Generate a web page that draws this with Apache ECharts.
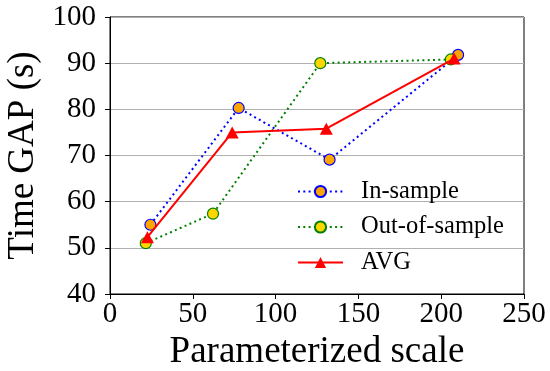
<!DOCTYPE html>
<html>
<head>
<meta charset="utf-8">
<script src="https://cdn.jsdelivr.net/npm/echarts@6/dist/echarts.min.js"></script>
<style>html,body{margin:0;padding:0;background:#fff;}#c{width:550px;height:371px;}</style>
</head>
<body>
<div id="c"></div>
<script>
const seriesNames = ['In-sample', 'Out-of-sample', 'AVG'];
const inSampleX = [24.4, 77.7, 132.6, 210.2];
const inSampleY = [55.0, 80.3, 69.1, 91.8];
const outSampleX = [21.6, 62.2, 127.0, 205.8];
const outSampleY = [51.0, 57.4, 90.0, 90.8];
const avgX = [22.6, 73.8, 130.6, 207.8];
const avgY = [52.3, 75.0, 75.8, 91.0];
const xTicks = [0, 50, 100, 150, 200, 250];
const yTicks = [40, 50, 60, 70, 80, 90, 100];

const pair = (xs, ys) => xs.map((x, i) => [x, ys[i]]);
const FONT = 'Liberation Serif';

const chart = echarts.init(document.getElementById('c'), null, {renderer: 'canvas'});
chart.setOption({
  animation: false,
  backgroundColor: '#fff',
  grid: {left: 110, right: 26, top: 17, bottom: 77, containLabel: false, outerBoundsMode: 'none',
         show: true, borderColor: '#000', borderWidth: 1, backgroundColor: 'transparent'},
  xAxis: {
    type: 'value', min: xTicks[0], max: xTicks[xTicks.length - 1], interval: 50,
    name: 'Parameterized scale', nameLocation: 'middle', nameGap: 33,
    nameTextStyle: {fontFamily: FONT, fontSize: 37, color: '#000'},
    axisLine: {show: true, lineStyle: {color: '#000', width: 1}},
    axisTick: {show: true, inside: false, length: 5, lineStyle: {color: '#000'}},
    axisLabel: {fontFamily: FONT, fontSize: 29, color: '#000', margin: 6},
    splitLine: {show: false}
  },
  yAxis: {
    type: 'value', min: yTicks[0], max: yTicks[yTicks.length - 1], interval: 10,
    name: 'Time GAP (s)', nameLocation: 'middle', nameGap: 62,
    nameTextStyle: {fontFamily: FONT, fontSize: 37, color: '#000'},
    axisLine: {show: true, lineStyle: {color: '#000', width: 1}},
    axisTick: {show: true, inside: false, length: 5, lineStyle: {color: '#000'}},
    axisLabel: {fontFamily: FONT, fontSize: 29, color: '#000', margin: 14},
    splitLine: {show: true, lineStyle: {color: '#b0b0b0', width: 1}}
  },
  legend: {
    orient: 'vertical', left: 297, top: 179, padding: 0,
    itemWidth: 45, itemHeight: 14, itemGap: 10.5,
    textStyle: {fontFamily: FONT, fontSize: 24.5, color: '#000', lineHeight: 24, padding: [0, 0, 0, 13]},
    data: seriesNames
  },
  series: [
    {
      name: seriesNames[0], type: 'line', data: pair(inSampleX, inSampleY), z: 2,
      symbol: 'circle', symbolSize: 11,
      lineStyle: {color: '#0000ff', width: 2, type: [2, 3.3]},
      itemStyle: {color: '#ffa500', borderColor: '#0000ff', borderWidth: 1.2}
    },
    {
      name: seriesNames[1], type: 'line', data: pair(outSampleX, outSampleY), z: 3,
      symbol: 'circle', symbolSize: 11,
      lineStyle: {color: '#008000', width: 2, type: [2, 3.3]},
      itemStyle: {color: '#ffd700', borderColor: '#008000', borderWidth: 1.2}
    },
    {
      name: seriesNames[2], type: 'line', data: pair(avgX, avgY), z: 4,
      symbol: 'triangle', symbolSize: [13, 12],
      lineStyle: {color: '#ff0000', width: 2, type: 'solid'},
      itemStyle: {color: '#ff0000', borderColor: '#ff0000', borderWidth: 0}
    }
  ]
});
</script>
</body>
</html>
